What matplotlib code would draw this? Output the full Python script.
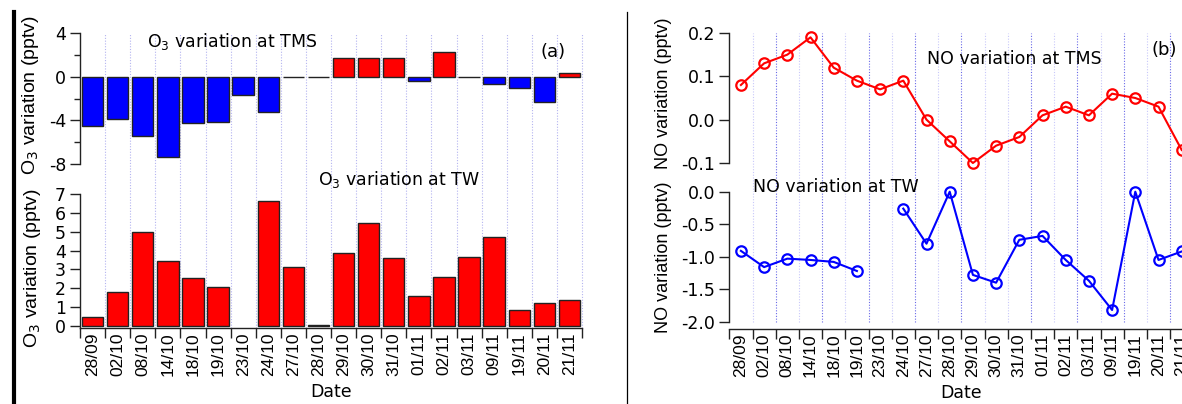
import numpy as np
import matplotlib.pyplot as plt
from matplotlib.lines import Line2D

plt.rcParams['axes.unicode_minus'] = False
plt.rcParams['font.family'] = 'DejaVu Sans'

# sampling dates (categories, dd/mm)
dates = ['28/09', '02/10', '08/10', '14/10', '18/10', '19/10', '23/10', '24/10',
         '27/10', '28/10', '29/10', '30/10', '31/10', '01/11', '02/11', '03/11',
         '09/11', '19/11', '20/11', '21/11']

# O3 variation (pptv)
o3_tms = [-4.5, -3.85, -5.45, -7.35, -4.2, -4.15, -1.65, -3.25,
          0.0, 0.0, 1.7, 1.7, 1.7, -0.4, 2.3, -0.05,
          -0.7, -1.0, -2.3, 0.3]
o3_tw = [0.48, 1.8, 4.98, 3.46, 2.53, 2.05, np.nan, 6.64,
         3.14, 0.05, 3.87, 5.48, 3.6, 1.61, 2.6, 3.66,
         4.72, 0.85, 1.24, 1.39]

# NO variation (pptv)
no_tms = [0.08, 0.13, 0.15, 0.19, 0.12, 0.09, 0.07, 0.09,
          0.00, -0.05, -0.10, -0.06, -0.04, 0.01, 0.03, 0.01,
          0.06, 0.05, 0.03, -0.07]
no_tw = [-0.91, -1.16, -1.03, -1.05, -1.08, -1.22, np.nan, -0.26,
         -0.80, 0.0, -1.28, -1.40, -0.74, -0.68, -1.05, -1.37,
         -1.82, 0.0, -1.05, -0.92]

# boundaries with the darker grid lines in panel (b)
grid_major_b = [2, 4, 6, 8, 10, 13, 15, 17, 19]

W, H = 1182, 404
fig = plt.figure(figsize=(W / 100, H / 100), dpi=100)


def px_rect(x0, x1, ytop, ybot):
    return [x0 / W, 1 - ybot / H, (x1 - x0) / W, (ybot - ytop) / H]


def style_axes(ax, tick_size=12.5):
    for s in ['top', 'right']:
        ax.spines[s].set_visible(False)
    for s in ['left', 'bottom']:
        ax.spines[s].set_linewidth(1.0)
        ax.spines[s].set_color('#222222')
    ax.tick_params(axis='y', which='major', length=7, width=1.0, color='#222222',
                   labelsize=tick_size, pad=3)
    ax.tick_params(axis='y', which='minor', length=4, width=1.0, color='#222222')


def date_axis(ax):
    n = len(dates)
    x = np.arange(n)
    ax.set_xlim(-0.5, n - 0.5)
    ax.set_xticks(np.arange(n + 1) - 0.5)
    ax.set_xticklabels([])
    ax.set_xticks(x, minor=True)
    ax.set_xticklabels(dates, minor=True, rotation=90, fontsize=12.5,
                       family='Liberation Sans')
    ax.tick_params(axis='x', which='major', length=7, width=1.0, color='#222222')
    ax.tick_params(axis='x', which='minor', length=0, pad=3)
    ax.set_xlabel('Date', fontsize=12.5, labelpad=5)


def vgrid(ax, idx, color, lo=0.0, hi=1.0):
    for k in idx:
        ax.axvline(k - 0.5, ymin=lo, ymax=hi, color=color, lw=0.8,
                   ls=(0, (1, 1.5)), clip_on=False, zorder=0)


x = np.arange(len(dates))

# ---------------- panel (a): O3 bars ----------------
ax1 = fig.add_axes(px_rect(80, 582, 33, 164))
ax2 = fig.add_axes(px_rect(80, 582, 194, 328))

cols = ['#ff0000' if v > 0 else '#0000ff' for v in o3_tms]
ax1.bar(x, o3_tms, width=0.85, color=cols, edgecolor='#222222', lw=1.0, zorder=3)
ax1.set_xlim(-0.5, len(dates) - 0.5)
ax1.set_ylim(-8, 4)
ax1.set_yticks([-8, -4, 0, 4])
ax1.set_yticks([-6, -2, 2], minor=True)
style_axes(ax1)
ax1.spines['bottom'].set_visible(False)
ax1.set_xticks([])
vgrid(ax1, range(1, 21), '#b4b4f0', lo=-0.23, hi=1.0)

ax2.bar(x, o3_tw, width=0.85, color='#ff0000', edgecolor='#222222', lw=1.0, zorder=3)
ax2.set_ylim(-0.11, 7)
ax2.set_yticks(range(0, 8))
style_axes(ax2)
date_axis(ax2)
vgrid(ax2, range(1, 21), '#b4b4f0')

fig.text(147 / W, 1 - 42 / H, 'O$_3$ variation at TMS', fontsize=12.5,
         ha='left', va='center')
fig.text(553 / W, 1 - 52 / H, '(a)', fontsize=13, ha='center', va='center')
fig.text(318 / W, 1 - 180 / H, 'O$_3$ variation at TW', fontsize=12.5,
         ha='left', va='center')
fig.text(31 / W, 1 - 95 / H, 'O$_3$ variation (pptv)', fontsize=14, rotation=90,
         ha='center', va='center', family='Liberation Sans')
fig.text(33 / W, 1 - 268 / H, 'O$_3$ variation (pptv)', fontsize=14, rotation=90,
         ha='center', va='center', family='Liberation Sans')

# ---------------- panel (b): NO lines ----------------
ax3 = fig.add_axes(px_rect(729.3, 1193.3, 33, 163))
ax4 = fig.add_axes(px_rect(729.3, 1193.3, 191.7, 321.7))

ax3.plot(x, no_tms, color='#ff0000', lw=1.5, marker='o', ms=7.5, mfc='none',
         mew=1.6, zorder=3, clip_on=False)
ax3.set_xlim(-0.5, len(dates) - 0.5)
ax3.set_ylim(-0.1, 0.2)
ax3.set_yticks([-0.1, 0.0, 0.1, 0.2])
ax3.set_yticklabels(['-0.1', '0.0', '0.1', '0.2'])
style_axes(ax3)
ax3.spines['bottom'].set_visible(False)
ax3.set_xticks([])
minor_b = [k for k in range(1, 20) if k not in grid_major_b]
vgrid(ax3, minor_b, '#c8c8fa', lo=-0.22, hi=1.0)
vgrid(ax3, grid_major_b, '#6a6ae8', lo=-0.22, hi=1.0)

ax4.plot(x, no_tw, color='#0000ff', lw=1.5, marker='o', ms=7.5, mfc='none',
         mew=1.6, zorder=3, clip_on=False)
ax4.set_ylim(-2.0, 0.0)
ax4.set_yticks([-2.0, -1.5, -1.0, -0.5, 0.0])
ax4.set_yticklabels(['-2.0', '-1.5', '-1.0', '-0.5', '0.0'])
style_axes(ax4)
ax4.spines['bottom'].set_position(('outward', 5.5))
date_axis(ax4)
vgrid(ax4, minor_b, '#c8c8fa')
vgrid(ax4, grid_major_b, '#6a6ae8')

fig.text(927 / W, 1 - 59 / H, 'NO variation at TMS', fontsize=12.5,
         ha='left', va='center')
fig.text(1164 / W, 1 - 50 / H, '(b)', fontsize=13, ha='center', va='center')
fig.text(753 / W, 1 - 187 / H, 'NO variation at TW', fontsize=12.5,
         ha='left', va='center')
fig.text(663 / W, 1 - 93 / H, 'NO variation (pptv)', fontsize=13, rotation=90,
         ha='center', va='center', family='Liberation Sans')
fig.text(663 / W, 1 - 257 / H, 'NO variation (pptv)', fontsize=13, rotation=90,
         ha='center', va='center', family='Liberation Sans')

# panel separators
fig.add_artist(Line2D([14 / W, 14 / W], [1 - 12 / H, 0], lw=3, color='black'))
fig.add_artist(Line2D([627 / W, 627 / W], [1 - 12 / H, 0], lw=0.9, color='black'))

fig.savefig('out.png', dpi=100)
